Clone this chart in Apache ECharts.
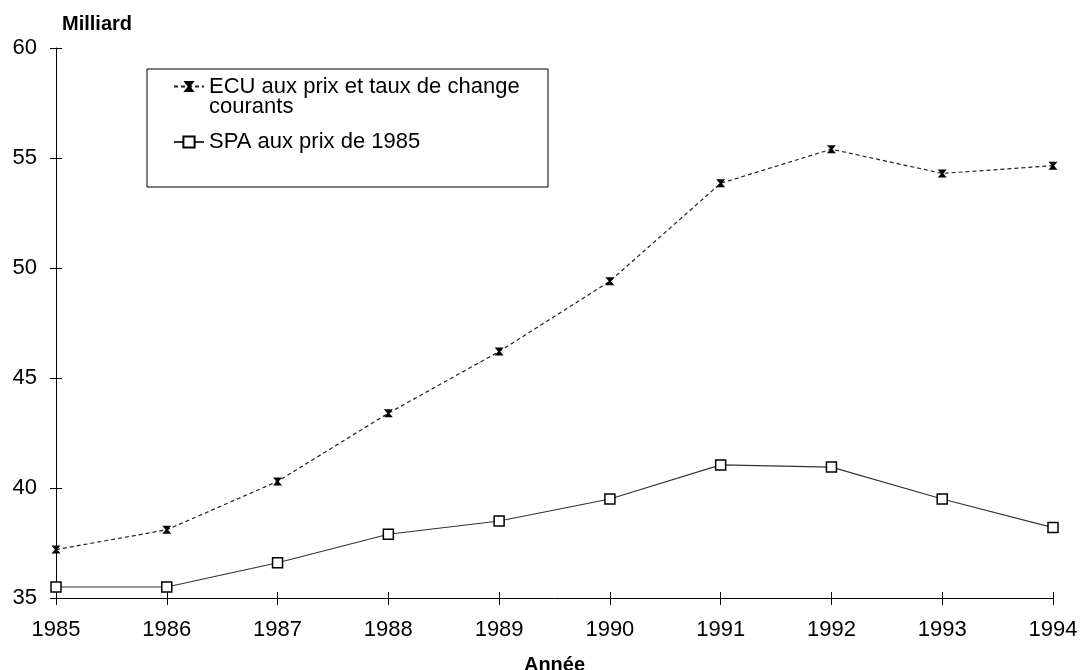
<!DOCTYPE html>
<html>
<head>
<meta charset="utf-8">
<script src="https://cdn.jsdelivr.net/npm/echarts@6/dist/echarts.min.js"></script>
<style>
  html, body { margin: 0; padding: 0; background: #fff; }
  #chart { width: 1081px; height: 670px; }
</style>
</head>
<body>
<div id="chart"></div>
<script>
// data
const years = ['1985', '1986', '1987', '1988', '1989', '1990', '1991', '1992', '1993', '1994'];
const ecuValues = [37.2, 38.1, 40.3, 43.4, 46.2, 49.4, 53.85, 55.4, 54.3, 54.65];
const spaValues = [35.5, 35.5, 36.6, 37.9, 38.5, 39.5, 41.05, 40.95, 39.5, 38.2];
const ecuName = 'ECU aux prix et taux de change\ncourants';
const spaName = 'SPA aux prix de 1985';

const font = '"Liberation Sans", Arial, sans-serif';
const chart = echarts.init(document.getElementById('chart'));

// hourglass-like cross marker
const crossMark = 'path://M0,0H10L6.2,5L10,10H0L3.8,5Z';

const legendText = { fontSize: 22, lineHeight: 20.5, color: '#000', fontFamily: font };

const option = {
    backgroundColor: '#fff',
    animation: false,
    textStyle: { fontFamily: font, color: '#000' },
    grid: { left: 56, right: 28, top: 48, bottom: 72, outerBoundsMode: 'none', containLabel: false },
    legend: [
        {
            left: 173,
            top: 55,
            padding: 0,
            itemWidth: 30,
            itemHeight: 14,
            data: [ecuName],
            // blank line on top keeps the first line level with the icon
            formatter: name => ' \n' + name,
            textStyle: legendText
        },
        {
            left: 173,
            top: 131,
            padding: 0,
            itemWidth: 30,
            itemHeight: 14,
            data: [spaName],
            textStyle: legendText
        }
    ],
    graphic: [{
        type: 'rect',
        shape: { x: 147, y: 69, width: 401, height: 118 },
        style: { fill: 'none', stroke: '#000', lineWidth: 1 }
    }],
    xAxis: [
        {
            type: 'category',
            data: years,
            boundaryGap: false,
            name: 'Année',
            nameLocation: 'middle',
            nameGap: 57,
            nameTextStyle: { fontSize: 20, fontWeight: 'bold', color: '#000' },
            axisLine: { lineStyle: { color: '#000', width: 1 } },
            axisTick: { alignWithLabel: true, length: 7, lineStyle: { color: '#000' } },
            axisLabel: { fontSize: 22, color: '#000', margin: 21 }
        },
        {
            // inner half of the crossing ticks
            type: 'category',
            data: years,
            boundaryGap: false,
            position: 'bottom',
            axisLine: { show: false },
            axisTick: { inside: true, length: 6, lineStyle: { color: '#000' } },
            axisLabel: { show: false }
        }
    ],
    yAxis: [
        {
            type: 'value',
            min: 35,
            max: 60,
            interval: 5,
            name: 'Milliard',
            nameLocation: 'end',
            nameGap: 14,
            nameTextStyle: { fontSize: 20, fontWeight: 'bold', color: '#000', align: 'left', padding: [0, 0, 0, 6] },
            splitLine: { show: false },
            axisLine: { show: true, lineStyle: { color: '#000', width: 1 } },
            axisTick: { show: true, length: 6, lineStyle: { color: '#000' } },
            axisLabel: { fontSize: 22, color: '#000', margin: 19, padding: [0, 0, 8, 0] }
        },
        {
            type: 'value',
            min: 35,
            max: 60,
            interval: 5,
            position: 'left',
            splitLine: { show: false },
            axisLine: { show: false },
            axisTick: { show: true, inside: true, length: 6, lineStyle: { color: '#000' } },
            axisLabel: { show: false }
        }
    ],
    series: [
        {
            name: ecuName,
            type: 'line',
            data: ecuValues,
            symbol: crossMark,
            symbolSize: [9, 8],
            itemStyle: { color: '#000' },
            lineStyle: { color: '#222', width: 1.2, type: [4, 3] }
        },
        {
            name: spaName,
            type: 'line',
            data: spaValues,
            symbol: 'rect',
            symbolSize: 10,
            itemStyle: { color: '#fff', borderColor: '#000', borderWidth: 1.5 },
            lineStyle: { color: '#333', width: 1.1 }
        }
    ]
};

chart.setOption(option);
</script>
</body>
</html>
